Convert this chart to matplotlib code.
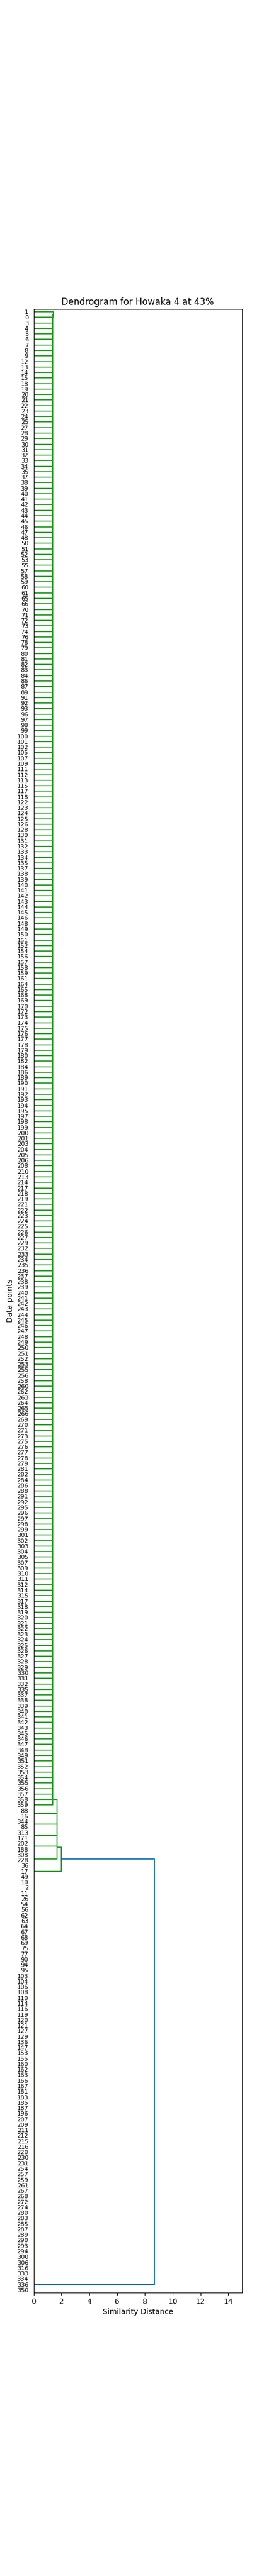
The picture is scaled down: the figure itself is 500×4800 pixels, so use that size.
import matplotlib
matplotlib.use('Agg')
import matplotlib.pyplot as plt

# leaf labels as shown from top to bottom
group_a = [1, 0, 3, 4, 5, 6, 7, 8, 9, 12, 13, 14, 15, 18, 19, 20, 21, 22, 23, 24, 25, 27, 28, 29, 30,
           31, 32, 33, 34, 35, 37, 38, 39, 40, 41, 42, 43, 44, 45, 46, 47, 48, 50, 51, 52, 53, 55, 57,
           58, 59, 60, 61, 65, 66, 70, 71, 72, 73, 74, 76, 78, 79, 80, 81, 82, 83, 84, 86, 87, 89, 91,
           92, 93, 96, 97, 98, 99, 100, 101, 102, 105, 107, 109, 111, 112, 113, 115, 117, 118, 122,
           123, 124, 125, 126, 128, 130, 131, 132, 133, 134, 135, 137, 138, 139, 140, 141, 142, 143,
           144, 145, 146, 148, 149, 150, 151, 152, 154, 156, 157, 158, 159, 161, 164, 165, 168, 169,
           170, 172, 173, 174, 175, 176, 177, 178, 179, 180, 182, 184, 186, 189, 190, 191, 192, 193,
           194, 195, 197, 198, 199, 200, 201, 203, 204, 205, 206, 208, 210, 213, 214, 217, 218, 219,
           221, 222, 223, 224, 225, 226, 227, 229, 232, 233, 234, 235, 236, 237, 238, 239, 240, 241,
           242, 243, 244, 245, 246, 247, 248, 249, 250, 251, 252, 253, 255, 256, 258, 260, 262, 263,
           264, 265, 266, 269, 270, 271, 273, 275, 276, 277, 278, 279, 281, 282, 284, 286, 288, 291,
           292, 295, 296, 297, 298, 299, 301, 302, 303, 304, 305, 307, 309, 310, 311, 312, 314, 315,
           317, 318, 319, 320, 321, 322, 323, 324, 325, 326, 327, 328, 329, 330, 331, 332, 335, 337,
           338, 339, 340, 341, 342, 343, 345, 346, 347, 348, 349, 351, 352, 353, 354, 355, 356, 357,
           358, 359]
pairs = [(88, 16), (344, 85), (313, 171), (202, 188), (308, 228)]
extra = [36, 17]
group_b = [49, 10, 2, 11, 26, 54, 56, 62, 63, 64, 67, 68, 69, 75, 77, 90, 94, 95, 103, 104, 106,
           108, 110, 114, 116, 119, 120, 121, 127, 129, 136, 147, 153, 155, 160, 162, 163, 166, 167,
           181, 183, 185, 187, 196, 207, 209, 211, 212, 215, 216, 220, 230, 231, 254, 257, 259, 261,
           267, 268, 272, 274, 280, 283, 285, 287, 289, 290, 293, 294, 300, 306, 316, 333, 334, 336,
           350]

# merge heights
h_a_first = 1.40
h_a = 1.36
h_mid = 1.68
h_green = 1.98
h_root = 8.70

labels_top_down = group_a + [x for p in pairs for x in p] + extra + group_b
assert len(labels_top_down) == 360 and len(set(labels_top_down)) == 360
leaves_up = labels_top_down[::-1]
ypos = {lab: 5 + 10 * i for i, lab in enumerate(leaves_up)}


def chain(leaves, h, h_first=None):
    # leaves given bottom-up, nested so the last two merge first
    node = (leaves[-2], leaves[-1], h if h_first is None else h_first)
    for lab in reversed(leaves[:-2]):
        node = (lab, node, h)
    return node


tree_a = chain(group_a[::-1], h_a, h_a_first)
node = tree_a
for a, b in pairs:
    pair = (b, a, 0.0)
    if a == 308:
        pair = ((extra[0], b, 0.0), a, 0.0)
    node = (pair, node, h_mid)
tree_green = (extra[1], node, h_green)
tree_orange = chain(group_b[::-1], 0.0)

fig = plt.figure(figsize=(5, 48))
ax = fig.add_subplot(111)


def draw(n, color):
    if isinstance(n, int):
        return ypos[n], 0.0
    left, right, h = n
    yl, hl = draw(left, color)
    yr, hr = draw(right, color)
    ax.plot([hl, h, h, hr], [yl, yl, yr, yr], color=color, lw=1.5)
    return (yl + yr) / 2, h


yo, ho = draw(tree_orange, 'C1')
yg, hg = draw(tree_green, 'C2')
ax.plot([ho, h_root, h_root, hg], [yo, yo, yg, yg], color='C0', lw=1.5)

ax.set_ylim(0, 10 * len(leaves_up))
ax.set_yticks([ypos[lab] for lab in leaves_up])
ax.set_yticklabels([str(lab) for lab in leaves_up], fontsize=8)
for line in ax.get_yticklines():
    line.set_visible(False)
ax.set_xlim(0, 15)
ax.set_xticks(range(0, 15, 2))

ax.set_title('Dendrogram for Howaka 4 at 43%')
ax.set_xlabel('Similarity Distance')
ax.set_ylabel('Data points')

plt.savefig('out.png', dpi=100)
